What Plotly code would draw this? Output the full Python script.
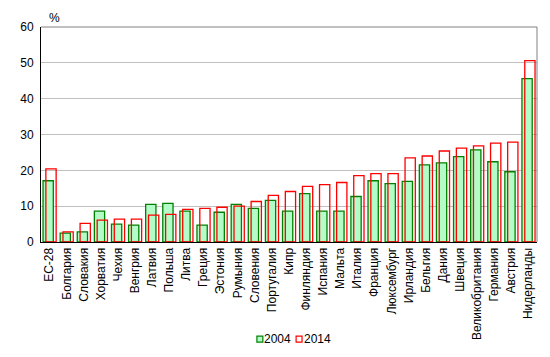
import plotly.graph_objects as go

categories = ["ЕС-28", "Болгария", "Словакия", "Хорватия", "Чехия", "Венгрия", "Латвия",
              "Польша", "Литва", "Греция", "Эстония", "Румыния", "Словения", "Португалия",
              "Кипр", "Финляндия", "Испания", "Мальта", "Италия", "Франция", "Люксембург",
              "Ирландия", "Бельгия", "Дания", "Швеция", "Великобритания", "Германия",
              "Австрия", "Нидерланды"]
values_2004 = [17.1, 2.5, 2.8, 8.6, 5.0, 4.7, 10.5, 10.8, 8.6, 4.7, 8.3, 10.5, 9.4, 11.6,
               8.6, 13.5, 8.6, 8.6, 12.7, 17.1, 16.3, 16.9, 21.5, 22.1, 23.8, 25.7, 22.4,
               19.6, 45.6]
values_2014 = [20.4, 2.8, 5.2, 6.1, 6.4, 6.4, 7.5, 7.7, 9.1, 9.4, 9.7, 10.0, 11.3, 13.0,
               14.1, 15.5, 16.0, 16.6, 18.5, 19.1, 19.1, 23.5, 24.0, 25.4, 26.2, 26.8, 27.6,
               27.9, 50.6]
series_names = ["2004", "2014"]
y_ticks = [0, 10, 20, 30, 40, 50, 60]

GREEN_FILL = "#b3fcc8"
GREEN = "#008000"
RED = "#ff0000"
FONT = "Liberation Sans, Arial, sans-serif"

# page is rendered with an 8px body margin; figure sized to fit the window
PW, PH = 499.7, 218.0


def px_x(x):
    return (x - 37) / PW


def px_y(y):
    return (242 - y) / PH


fig = go.Figure()
fig.add_trace(go.Bar(x=categories, y=values_2004, name=series_names[0],
                     width=0.6, offset=-0.38,
                     marker=dict(color=GREEN_FILL, line=dict(color=GREEN, width=1.3)),
                     showlegend=False))
fig.add_trace(go.Bar(x=categories, y=values_2014, name=series_names[1],
                     width=0.6, offset=-0.215,
                     marker=dict(color="rgba(0,0,0,0)", line=dict(color=RED, width=1.3)),
                     showlegend=False))

fig.update_layout(
    width=542, height=349,
    margin=dict(l=29, r=13.3, t=16, b=115),
    barmode="overlay",
    plot_bgcolor="white", paper_bgcolor="white",
    font=dict(family=FONT, size=12, color="black"),
    xaxis=dict(type="category", tickangle=-90, showline=True, linecolor="black",
               linewidth=1, ticks="", showgrid=False,
               range=[-0.5, len(categories) - 0.5], tickfont=dict(size=12)),
    yaxis=dict(range=[0, 60], tickvals=y_ticks, showline=True, linecolor="black",
               linewidth=1, showgrid=True, gridcolor="#c0c0c0", gridwidth=1,
               zeroline=False, ticks="", ticklabelstandoff=4, tickfont=dict(size=12)),
    shapes=[
        dict(type="line", xref="paper", yref="paper", x0=0, x1=1, y0=1, y1=1,
             line=dict(color="#808080", width=1)),
        dict(type="line", xref="paper", yref="paper", x0=1, x1=1, y0=0, y1=1,
             line=dict(color="#808080", width=1)),
        # legend swatches
        dict(type="rect", xref="paper", yref="paper",
             x0=px_x(254.5), x1=px_x(260.5), y0=px_y(343.5), y1=px_y(337.5),
             fillcolor=GREEN_FILL, line=dict(color=GREEN, width=1.2)),
        dict(type="rect", xref="paper", yref="paper",
             x0=px_x(294), x1=px_x(300), y0=px_y(343.5), y1=px_y(337.5),
             fillcolor="white", line=dict(color=RED, width=1.2)),
    ],
    annotations=[
        dict(text="%", xref="paper", yref="paper", x=px_x(51), y=px_y(15),
             showarrow=False, xanchor="center", yanchor="middle", font=dict(size=12)),
        dict(text=series_names[0], xref="paper", yref="paper", x=px_x(262),
             y=px_y(340.5), showarrow=False, xanchor="left", yanchor="middle",
             xshift=-2, font=dict(size=12)),
        dict(text=series_names[1], xref="paper", yref="paper", x=px_x(301.5),
             y=px_y(340.5), showarrow=False, xanchor="left", yanchor="middle",
             xshift=-2, font=dict(size=12)),
    ],
)

fig.write_html("out.html")
